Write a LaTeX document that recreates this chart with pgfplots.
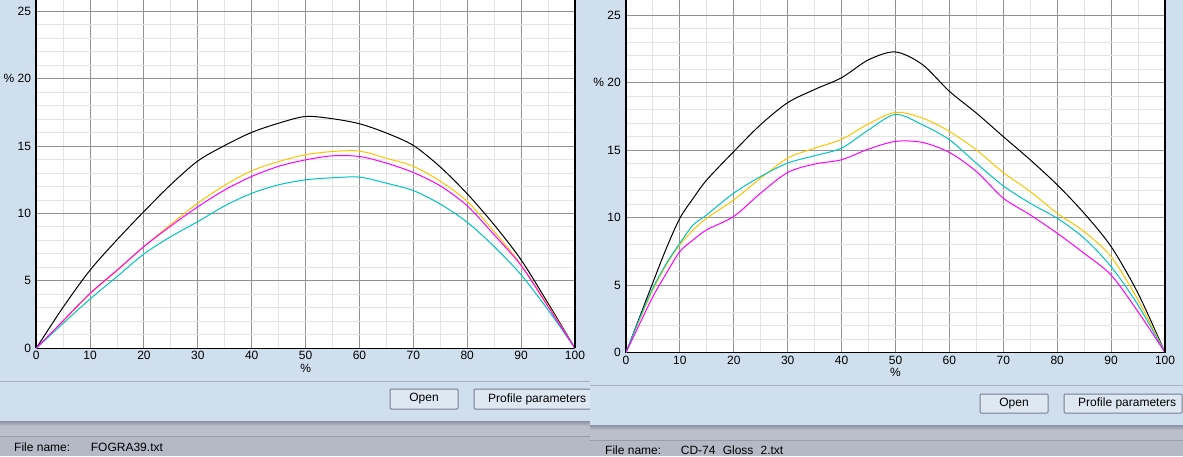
\documentclass[border=0pt]{standalone}
\usepackage{fontspec}
\setmainfont{Liberation Sans}
\usepackage{pgfplots}
\pgfplotsset{compat=1.18}
\definecolor{panelblue}{RGB}{207,223,238}
\definecolor{sepline}{RGB}{165,177,194}
\definecolor{shadowdark}{RGB}{140,148,162}
\definecolor{bargray}{RGB}{186,191,202}
\definecolor{statusgray}{RGB}{180,185,197}
\definecolor{statusline}{RGB}{150,156,170}
\definecolor{btnfill}{RGB}{222,232,243}
\definecolor{btnborder}{RGB}{118,126,140}
\definecolor{gridmajor}{RGB}{145,145,145}
\definecolor{gridminor}{RGB}{228,228,228}
\definecolor{cmyY}{RGB}{255,196,0}
\definecolor{cmyM}{RGB}{255,0,255}
\definecolor{cmyC}{RGB}{0,196,196}
\pgfplotsset{
  panel/.style={
    scale only axis, xmin=0, xmax=100, ymin=0,
    xtick={0,10,...,100}, xticklabels={0,10,20,30,40,50,60,70,80,90,100},
    minor x tick num=1,
    ytick={0,5,10,15,20,25}, yticklabels={0,5,10,15,{\% 20},25},
    minor y tick num=4,
    grid=both,
    major grid style={gridmajor, line width=1pt},
    minor grid style={gridminor, line width=1pt},
    axis x line=bottom, axis y line=left,
    axis line style={black, line width=1.5pt, -},
    major tick length=0pt, minor tick length=0pt,
    tick label style={font=\fontsize{12}{14}\selectfont, inner sep=0pt},
    xticklabel style={yshift=-3pt},
    yticklabel style={xshift=-5pt},
    xlabel={\%},
    xlabel style={font=\fontsize{12}{14}\selectfont, at={(axis description cs:0.5,0)}, anchor=north, inner sep=0pt, yshift=-15.5pt},
    axis background/.style={fill=white},
    every axis plot/.append style={line width=1pt, smooth, tension=0.5, mark=none},
    anchor=south west,
  },
}
\tikzset{btn/.style={draw=btnborder, fill=btnfill, line width=1pt, rounded corners=1pt}}
\begin{document}
\begin{tikzpicture}[x=1pt,y=1pt, every node/.style={font=\fontsize{12}{14}\selectfont}]
\useasboundingbox (0,0) rectangle (1183,456);
% ---------- left panel background ----------
\fill[panelblue] (0,35) rectangle (590,456);
\shade[top color=shadowdark, bottom color=bargray] (0,30) rectangle (590,35);
\fill[bargray] (0,20) rectangle (590,30);
\fill[statusgray] (0,0) rectangle (590,20);
\draw[statusline, line width=1pt] (0,20) -- (590,20);
\draw[sepline, line width=1pt] (0,74.7) -- (590,74.7);
\draw[btn] (390,47) rectangle (458,67);
\node[inner sep=0pt] at (424,57) {Open};
\draw[btn] (474,47) rectangle (600,67);
\node[anchor=west, inner sep=0pt] at (488,57) {Profile parameters};
\node[anchor=base west, inner sep=0pt] at (14,4.5) {File name:};
\node[anchor=base west, inner sep=0pt] at (90.7,4.5) {FOGRA39.txt};
% ---------- right panel background ----------
\fill[panelblue] (590,31) rectangle (1183,456);
\shade[top color=shadowdark, bottom color=bargray] (590,26) rectangle (1183,31);
\fill[bargray] (590,16) rectangle (1183,26);
\fill[statusgray] (590,0) rectangle (1183,16);
\draw[statusline, line width=1pt] (590,16) -- (1183,16);
\draw[sepline, line width=1pt] (590,70.7) -- (1183,70.7);
\draw[btn] (980,43) rectangle (1048,62);
\node[inner sep=0pt] at (1014,52.5) {Open};
\draw[btn] (1064,43) rectangle (1182,62);
\node[anchor=west, inner sep=0pt] at (1078,52.5) {Profile parameters};
\node[anchor=base west, inner sep=0pt] at (605,1.8) {File name:};
\node[anchor=base west, inner sep=0pt] at (680.7,1.8) {CD-74\hspace{0.6em}Gloss\hspace{0.6em}2.txt};
% ---------- left chart: FOGRA39 ----------
\begin{axis}[panel, name=L, at={(36.2pt,107.7pt)}, width=538.8pt, height=348.3pt, ymax=25.84]
\addplot[black] coordinates {(0,0)(5,3.05)(10,5.8)(15,8.05)(20,10.15)(25,12.15)(30,13.9)(35,15.05)(40,16.02)(45,16.7)(50,17.2)(55,17.03)(60,16.66)(65,15.97)(70,15.05)(75,13.45)(80,11.46)(85,9.16)(90,6.56)(95,3.34)(100,0)};
\addplot[cmyY] coordinates {(0,0)(5,2.0)(10,4.03)(15,5.75)(20,7.55)(25,9.2)(30,10.77)(35,12.1)(40,13.17)(45,13.85)(50,14.36)(55,14.6)(60,14.63)(65,14.1)(70,13.5)(75,12.4)(80,10.9)(85,8.66)(90,6.19)(95,3.17)(100,0)};
\addplot[cmyC] coordinates {(0,0)(5,1.85)(10,3.66)(15,5.32)(20,7.0)(25,8.29)(30,9.4)(35,10.57)(40,11.5)(45,12.13)(50,12.5)(55,12.65)(60,12.7)(65,12.25)(70,11.7)(75,10.7)(80,9.35)(85,7.55)(90,5.45)(95,2.85)(100,0)};
\addplot[cmyM] coordinates {(0,0)(5,2.05)(10,4.08)(15,5.8)(20,7.55)(25,9.08)(30,10.5)(35,11.75)(40,12.75)(45,13.5)(50,13.98)(55,14.28)(60,14.23)(65,13.74)(70,13.04)(75,12.05)(80,10.57)(85,8.42)(90,6.14)(95,3.09)(100,0)};
\end{axis}
\draw[black, line width=1.5pt] (L.south east) -- (L.north east);
% ---------- right chart: CD-74 Gloss 2 ----------
\begin{axis}[panel, name=R, at={(626pt,103.5pt)}, width=539pt, height=352.5pt, ymax=26.13]
\addplot[black] coordinates {(0,0)(2.5,2.6)(5,5.2)(7.5,7.74)(10,9.96)(12.5,11.45)(15,12.8)(20,14.9)(25,16.9)(30,18.52)(35,19.5)(40,20.37)(45,21.7)(50,22.28)(55,21.34)(60,19.36)(65,17.75)(70,16.0)(75,14.28)(80,12.43)(85,10.32)(90,7.85)(95,4.38)(100,0)};
\addplot[cmyY] coordinates {(0,0)(2.5,2.4)(5,4.65)(7.5,6.5)(10,8.0)(12.5,9.1)(15,9.96)(20,11.32)(25,12.93)(30,14.41)(35,15.15)(40,15.8)(45,16.95)(50,17.8)(55,17.38)(60,16.39)(65,15.02)(70,13.34)(75,11.93)(80,10.32)(85,8.96)(90,7.1)(95,3.89)(100,0)};
\addplot[cmyC] coordinates {(0,0)(2.5,2.5)(5,4.8)(7.5,6.6)(10,8.11)(12.5,9.47)(15,10.21)(20,11.82)(25,13.05)(30,14.04)(35,14.59)(40,15.15)(45,16.5)(50,17.65)(55,16.88)(60,15.77)(65,14.03)(70,12.35)(75,11.06)(80,9.95)(85,8.47)(90,6.36)(95,3.51)(100,0)};
\addplot[cmyM] coordinates {(0,0)(2.5,2.1)(5,4.15)(7.5,5.88)(10,7.49)(12.5,8.36)(15,9.1)(20,10.09)(25,11.82)(30,13.35)(35,13.97)(40,14.29)(45,15.08)(50,15.65)(55,15.57)(60,14.83)(65,13.42)(70,11.44)(75,10.2)(80,8.84)(85,7.35)(90,5.74)(95,3.02)(100,0)};
\end{axis}
\draw[black, line width=1.5pt] (R.south east) -- (R.north east);
\end{tikzpicture}
\end{document}
